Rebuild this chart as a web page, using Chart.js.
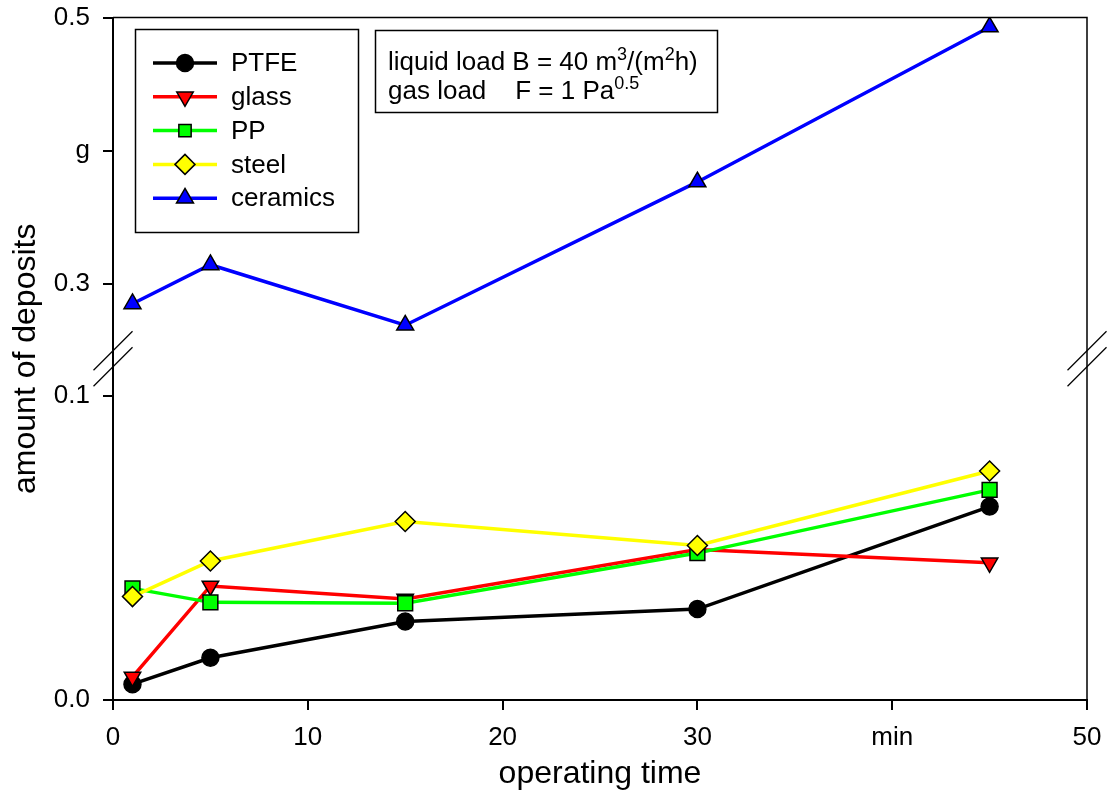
<!DOCTYPE html>
<html>
<head>
<meta charset="utf-8">
<script src="https://cdn.jsdelivr.net/npm/chart.js@4.4.1/dist/chart.umd.min.js"></script>
<style>
  html, body { margin: 0; padding: 0; background: #fff; }
</style>
</head>
<body>
<canvas id="myChart" width="1107" height="801"></canvas>
<script>
// operating time in min
const times = [1, 5, 15, 30, 45];

// amount of deposits in g
const ptfe = [0.0052, 0.0139, 0.0258, 0.0299, 0.0636];
const glass = [0.0076, 0.0375, 0.0332, 0.0495, 0.0451];
const pp = [0.0367, 0.0321, 0.0318, 0.0483, 0.0691];
const steel = [0.0340, 0.0457, 0.0587, 0.0508, 0.0753];
const ceramics = [0.285, 0.3143, 0.2689, 0.3765, 0.4929];

const xTickValues = [0, 10, 20, 30, 40, 50];
const xTickLabels = ['0', '10', '20', '30', 'min', '50'];
const lowTickValues = [0, 0.1];
const lowTickLabels = ['0.0', '0.1'];
const highTickValues = [0.3, 0.4, 0.5];
const highTickLabels = ['0.3', 'g', '0.5'];

const FONT = '"Liberation Sans", Arial, sans-serif';
Chart.defaults.font.family = FONT;
Chart.defaults.color = '#000';

function pts(values) {
  return times.map((t, i) => ({ x: t, y: values[i] }));
}

function series(label, values, color, style, radius, legendRadius, axis, order, rotation) {
  return {
    label: label,
    data: pts(values),
    yAxisID: axis,
    borderColor: color,
    backgroundColor: color,
    borderWidth: 3.5,
    pointStyle: style,
    pointRadius: radius,
    legendRadius: legendRadius,
    pointRotation: rotation || 0,
    pointBackgroundColor: color,
    pointBorderColor: '#000',
    pointBorderWidth: 1.5,
    tension: 0,
    order: order,
  };
}

const datasets = [
  series('PTFE', ptfe, '#000000', 'circle', 8.5, 8.5, 'yLow', 5),
  series('glass', glass, '#ff0000', 'triangle', 9.5, 9.5, 'yLow', 4, 180),
  series('PP', pp, '#00ff00', 'rect', 10.5, 8.7, 'yLow', 3),
  series('steel', steel, '#ffff00', 'rectRot', 10, 10, 'yLow', 2),
  series('ceramics', ceramics, '#0000ff', 'triangle', 9.8, 9.8, 'yHigh', 1),
];

const axisGrid = { drawOnChartArea: false, drawTicks: true, tickLength: 10, color: '#000', lineWidth: 2 };
const axisBorder = { color: '#000', width: 2 };

function noPadding(s) {
  s.paddingTop = 0;
  s.paddingBottom = 0;
  s.paddingLeft = 0;
  s.paddingRight = 0;
}

// frame, axis break marks, legend and the load note
const extras = {
  id: 'extras',
  afterDraw(chart) {
    const { ctx, chartArea: a } = chart;
    const yBreak = chart.scales.yLow.top;
    ctx.save();
    ctx.strokeStyle = '#000';
    ctx.lineWidth = 1.5;
    ctx.beginPath();
    ctx.moveTo(a.left, a.top);
    ctx.lineTo(a.right, a.top);
    ctx.lineTo(a.right, a.bottom);
    ctx.stroke();

    ctx.lineWidth = 1.2;
    [a.left, a.right].forEach(x => {
      [-8, 8].forEach(d => {
        ctx.beginPath();
        ctx.moveTo(x - 19.5, yBreak + d + 19.5);
        ctx.lineTo(x + 19.5, yBreak + d - 19.5);
        ctx.stroke();
      });
    });

    // legend
    ctx.lineWidth = 1.5;
    ctx.strokeRect(135.5, 29.5, 223, 203);
    ctx.font = '26px ' + FONT;
    ctx.textBaseline = 'middle';
    ctx.textAlign = 'left';
    chart.data.datasets.forEach((ds, i) => {
      const y = 63 + i * 33.8;
      ctx.strokeStyle = ds.borderColor;
      ctx.lineWidth = 3.5;
      ctx.beginPath();
      ctx.moveTo(153, y);
      ctx.lineTo(217, y);
      ctx.stroke();
      ctx.fillStyle = ds.pointBackgroundColor;
      ctx.strokeStyle = ds.pointBorderColor;
      ctx.lineWidth = ds.pointBorderWidth;
      Chart.helpers.drawPoint(ctx, {
        pointStyle: ds.pointStyle,
        radius: ds.legendRadius,
        rotation: ds.pointRotation,
        borderWidth: ds.pointBorderWidth,
      }, 185, y);
      ctx.fillStyle = '#000';
      ctx.fillText(ds.label, 231, y + 1);
    });

    // note box
    ctx.strokeStyle = '#000';
    ctx.lineWidth = 1.5;
    ctx.strokeRect(375.5, 30.5, 342, 82);
    ctx.textBaseline = 'alphabetic';
    ctx.fillStyle = '#000';
    const rich = (parts, x, y) => {
      parts.forEach(([txt, sup]) => {
        ctx.font = (sup ? '18px ' : '26px ') + FONT;
        ctx.fillText(txt, x, sup ? y - 10 : y);
        x += ctx.measureText(txt).width;
      });
    };
    rich([['liquid load B = 40 m'], ['3', 1], ['/(m'], ['2', 1], ['h)']], 388, 70);
    rich([['gas load    F = 1 Pa'], ['0.5', 1]], 388, 99);
    ctx.restore();
  }
};

const ctx = document.getElementById('myChart').getContext('2d');

new Chart(ctx, {
  type: 'line',
  data: { datasets: datasets },
  options: {
    responsive: false,
    animation: false,
    layout: { padding: { top: 17.5, right: 20, left: 0, bottom: 0 } },
    plugins: { legend: { display: false }, tooltip: { enabled: false } },
    scales: {
      x: {
        type: 'linear',
        min: 0,
        max: 50,
        afterBuildTicks: s => { s.ticks = xTickValues.map(v => ({ value: v })); },
        afterFit: s => { s.height = 101; noPadding(s); },
        ticks: {
          callback: (v, i) => xTickLabels[i],
          font: { size: 26 },
          padding: 12,
          maxRotation: 0,
          autoSkip: false,
        },
        grid: axisGrid,
        border: axisBorder,
        title: { display: true, text: 'operating time', font: { size: 32 }, padding: { top: 0, bottom: 8 } },
      },
      yTitle: {
        type: 'linear',
        position: 'left',
        weight: 3,
        display: true,
        afterFit: s => { s.width = 44; noPadding(s); },
        grid: { display: false },
        border: { display: false },
        ticks: { display: false },
        title: { display: true, text: 'amount of deposits', font: { size: 32 }, padding: { top: 7, bottom: 3 } },
      },
      yHigh: {
        type: 'linear',
        position: 'left',
        stack: 'amount',
        stackWeight: 1,
        weight: 2,
        min: 0.2437,
        max: 0.5,
        afterBuildTicks: s => { s.ticks = highTickValues.map(v => ({ value: v })); },
        afterFit: s => { s.width = 69; noPadding(s); },
        ticks: { callback: (v, i) => highTickLabels[i], font: { size: 26 }, padding: 13, autoSkip: false },
        grid: axisGrid,
        border: axisBorder,
      },
      yLow: {
        type: 'linear',
        position: 'left',
        stack: 'amount',
        stackWeight: 1,
        weight: 1,
        min: 0,
        max: 0.1122,
        afterBuildTicks: s => { s.ticks = lowTickValues.map(v => ({ value: v })); },
        afterFit: s => { s.width = 69; noPadding(s); },
        ticks: { callback: (v, i) => lowTickLabels[i], font: { size: 26 }, padding: 13, autoSkip: false },
        grid: axisGrid,
        border: axisBorder,
      },
    },
  },
  plugins: [extras],
});
</script>
</body>
</html>
